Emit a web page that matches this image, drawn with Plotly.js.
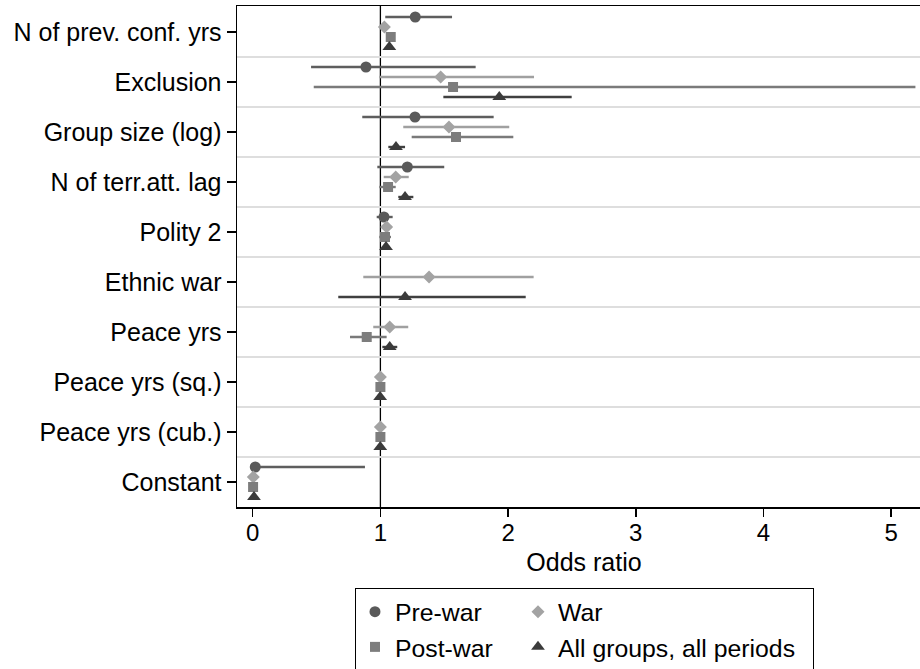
<!DOCTYPE html>
<html>
<head>
<meta charset="utf-8">
<script src="https://cdn.plot.ly/plotly-3.0.1.min.js"></script>
<style>
  html, body { margin: 0; padding: 0; overflow: hidden; background: #ffffff; }
  #chart { width: 931px; height: 680px; }
</style>
</head>
<body>
<div id="chart"></div>
<script>
// ---- Data ----
const categories = [
  "N of prev. conf. yrs", "Exclusion", "Group size (log)", "N of terr.att. lag",
  "Polity 2", "Ethnic war", "Peace yrs", "Peace yrs (sq.)", "Peace yrs (cub.)", "Constant"
];
const seriesNames = ["Pre-war", "War", "Post-war", "All groups, all periods"];

const preEst = [1.273, 0.887, 1.271, 1.211, 1.028, null, null, null, null, 0.020];
const preLo  = [1.038, 0.457, 0.858, 0.976, 0.971, null, null, null, null, 0.000];
const preHi  = [1.561, 1.746, 1.887, 1.500, 1.096, null, null, null, null, 0.879];

const warEst = [1.031, 1.472, 1.537, 1.120, 1.049, 1.381, 1.073, 1.000, 1.000, 0.005];
const warLo  = [1.000, 0.991, 1.179, 1.026, 1.010, 0.866, 0.944, 0.999, 0.999, 0.002];
const warHi  = [1.060, 2.203, 2.009, 1.222, 1.090, 2.200, 1.218, 1.001, 1.001, 0.010];

const postEst = [1.081, 1.569, 1.592, 1.060, 1.036, null, 0.893, 1.000, 1.000, 0.003];
const postLo  = [1.050, 0.478, 1.245, 0.991, 0.991, null, 0.762, 0.999, 0.999, 0.001];
const postHi  = [1.110, 5.190, 2.041, 1.120, 1.083, null, 1.049, 1.001, 1.001, 0.006];

const allEst = [1.070, 1.931, 1.122, 1.193, 1.044, 1.193, 1.073, 0.998, 0.999, 0.010];
const allLo  = [1.050, 1.493, 1.062, 1.140, 1.020, 0.670, 1.015, 0.997, 0.998, 0.005];
const allHi  = [1.090, 2.498, 1.193, 1.258, 1.070, 2.138, 1.132, 0.999, 1.000, 0.020];

const xTicks = [0, 1, 2, 3, 4, 5];

// ---- Styling ----
const FONT = "Liberation Sans, Arial, Helvetica, sans-serif";
const styles = [
  {symbol: "circle",       size: 11,  color: "#5a5a5a", line: "#5e5e5e", offset: -0.3, group: "g1", lw: 118},
  {symbol: "diamond",      size: 10,  color: "#a3a3a3", line: "#a0a0a0", offset: -0.1, group: "g2", lw: 250},
  {symbol: "square",       size: 10,  color: "#7d7d7d", line: "#7a7a7a", offset:  0.1, group: "g1", lw: 118},
  {symbol: "triangle-up",  size: 12,  color: "#3b3b3b", line: "#404040", offset:  0.3, group: "g2", lw: 250}
];
const seriesData = [
  [preEst, preLo, preHi],
  [warEst, warLo, warHi],
  [postEst, postLo, postHi],
  [allEst, allLo, allHi]
];

const traces = seriesData.map(function(s, k) {
  const est = s[0], lo = s[1], hi = s[2];
  const st = styles[k];
  return {
    type: "scatter",
    mode: "markers",
    name: seriesNames[k],
    legendgroup: st.group,
    legendwidth: st.lw,
    x: est,
    y: categories.map(function(c, i) { return i + st.offset; }),
    error_x: {
      type: "data",
      symmetric: false,
      array: est.map(function(v, i) { return v === null ? null : hi[i] - v; }),
      arrayminus: est.map(function(v, i) { return v === null ? null : v - lo[i]; }),
      color: st.line,
      thickness: 2.4,
      width: 0
    },
    marker: {symbol: st.symbol, size: st.size, color: st.color, line: {width: 0}},
    hoverinfo: "skip"
  };
});

const midpoints = categories.slice(1).map(function(c, i) { return i + 0.5; });

const layout = {
  width: 931,
  height: 680,
  margin: {l: 237, r: 0, t: 6, b: 173, autoexpand: false},
  paper_bgcolor: "#ffffff",
  plot_bgcolor: "#ffffff",
  font: {family: FONT, size: 25, color: "#000000"},
  showlegend: true,
  xaxis: {
    range: [-0.123, 5.312],
    tickmode: "array",
    tickvals: xTicks,
    ticktext: xTicks.map(String),
    ticks: "outside",
    ticklen: 8,
    tickwidth: 1.5,
    tickcolor: "#000000",
    ticklabelstandoff: -4,
    tickfont: {family: FONT, size: 24, color: "#000000"},
    showline: true,
    mirror: true,
    linecolor: "#000000",
    linewidth: 1.5,
    showgrid: false,
    zeroline: false,
    title: {text: "Odds ratio", font: {family: FONT, size: 25, color: "#000000"}, standoff: 8}
  },
  yaxis: {
    range: [9.5, -0.52],
    tickmode: "array",
    tickvals: categories.map(function(c, i) { return i; }),
    ticktext: categories,
    ticks: "outside",
    ticklen: 9,
    tickwidth: 1.5,
    tickcolor: "#000000",
    tickfont: {family: FONT, size: 25, color: "#000000"},
    showline: true,
    mirror: false,
    linecolor: "#000000",
    linewidth: 1.5,
    showgrid: false,
    zeroline: false,
    minor: {
      tickmode: "array",
      tickvals: midpoints,
      showgrid: true,
      gridcolor: "#dedede",
      gridwidth: 2,
      ticks: ""
    }
  },
  shapes: [{
    type: "line", xref: "x", yref: "paper",
    x0: 1, x1: 1, y0: 0, y1: 1,
    line: {color: "#000000", width: 1.3},
    layer: "below"
  }],
  legend: {
    orientation: "h",
    traceorder: "grouped",
    x: 0.170, xanchor: "left",
    y: -0.1617, yanchor: "top",
    bgcolor: "#ffffff",
    bordercolor: "#000000",
    borderwidth: 1,
    font: {family: FONT, size: 24.8, color: "#000000"},
    tracegroupgap: 0,
    itemclick: false,
    itemdoubleclick: false
  }
};

Plotly.newPlot("chart", traces, layout, {displayModeBar: false, staticPlot: true});
</script>
</body>
</html>
